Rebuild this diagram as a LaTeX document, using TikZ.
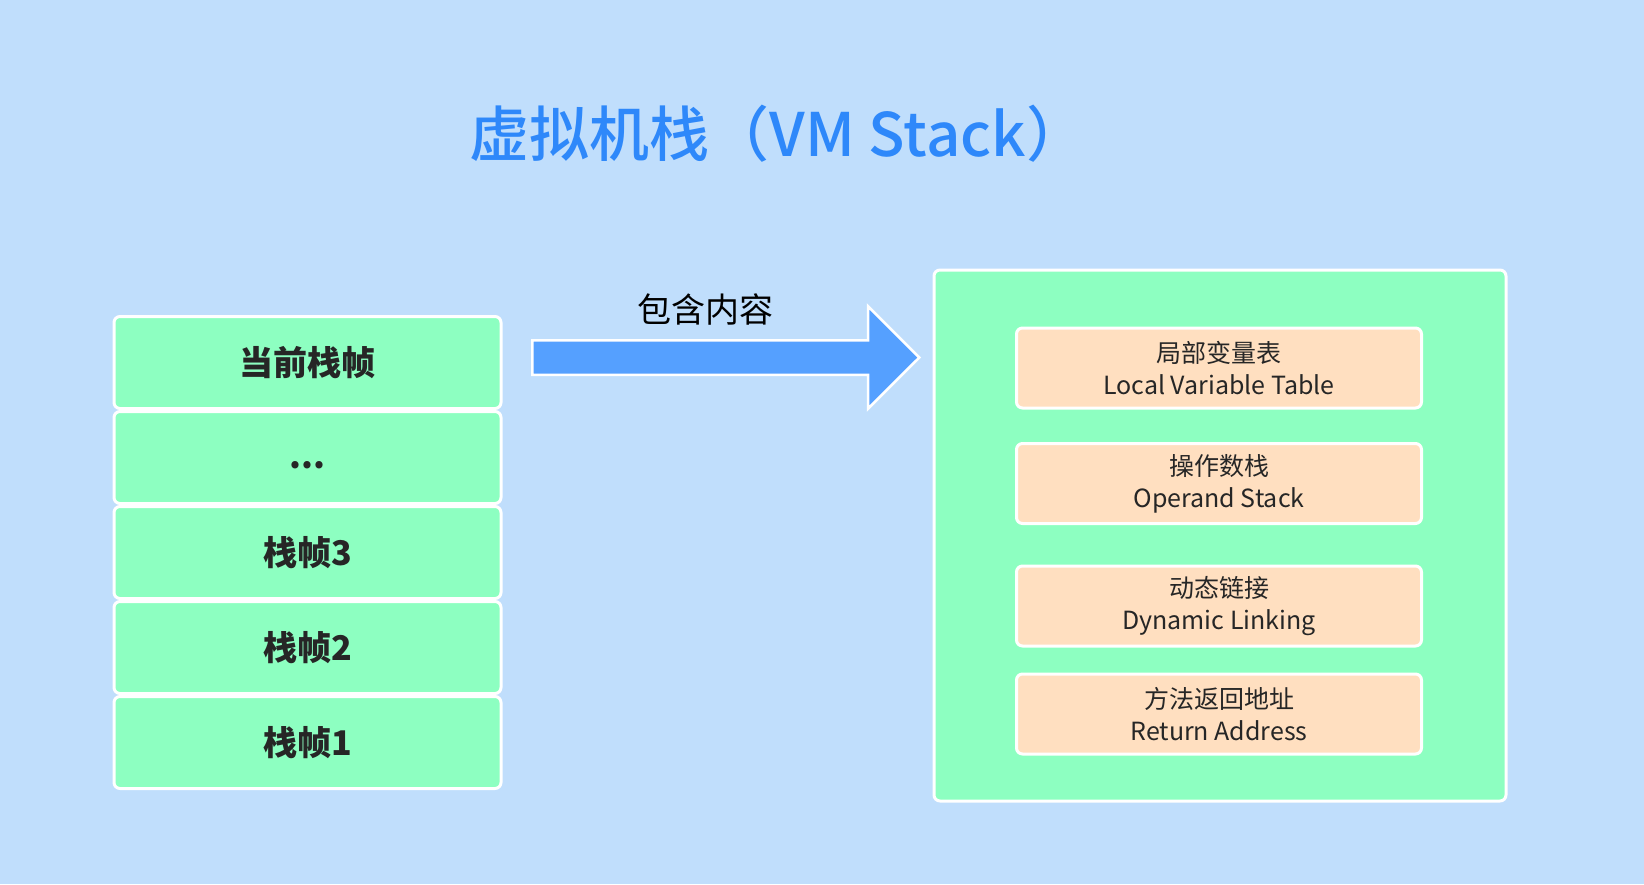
\documentclass[tikz,border=0pt]{standalone}
\usepackage{fontspec}
\setmainfont{Noto Sans CJK SC}
\newfontfamily\titlefont{Noto Sans CJK SC Medium}
\usepackage{tikz}
\usetikzlibrary{shapes,shapes.arrows,positioning}
\definecolor{bgblue}{HTML}{C0DEFC}
\definecolor{framegreen}{HTML}{8DFFC1}
\definecolor{itempeach}{HTML}{FFDFC0}
\definecolor{arrowblue}{HTML}{55A0FF}
\definecolor{titleblue}{HTML}{2E88FA}
\definecolor{textdark}{HTML}{262626}

\begin{document}
\begin{tikzpicture}[x=1pt, y=-1pt,
  framebox/.style={rectangle, draw=white, line width=3pt, rounded corners=6pt, fill=framegreen, minimum width=387pt, minimum height=92pt,
    font=\fontsize{34}{40}\selectfont\bfseries, text=textdark},
  itembox/.style={rectangle, draw=white, line width=3pt, rounded corners=6pt, fill=itempeach, minimum width=405pt, minimum height=80pt,
    align=center, font=\fontsize{25}{32}\selectfont, text=textdark},
  bigarrow/.style={single arrow, fill=arrowblue, draw=white, line width=2.5pt, minimum height=387pt, minimum width=101pt,
    single arrow head extend=34pt, inner sep=16pt}
]
  \fill[bgblue] (0,0) rectangle (1644,884);
  \useasboundingbox (0,0) rectangle (1644,884);

  \node[font=\fontsize{60}{66}\titlefont, text=titleblue] (title) at (778,134) {虚拟机栈（VM Stack）};

  % stack frames
  \node[framebox] (current) at (307.5,362.5) {当前栈帧};
  \node[framebox, below=0pt of current] (dots) {\raisebox{-11pt}[0pt][0pt]{...}};
  \node[framebox, below=0pt of dots] (frame3) {栈帧3};
  \node[framebox, below=0pt of frame3] (frame2) {栈帧2};
  \node[framebox, below=0pt of frame2] (frame1) {栈帧1};

  % arrow
  \node[bigarrow, anchor=tail] (contains) at (531,357.5) {};
  \node[font=\fontsize{34}{40}\selectfont, text=black] (containslabel) at (705,309) {包含内容};

  % frame contents
  \node[framebox, minimum width=572pt, minimum height=531pt] (content) at (1220,535.5) {};
  \node[itembox] (locals) at (1219,368) {局部变量表\\Local Variable Table};
  \node[itembox] (operand) at (1219,483.5) {操作数栈\\Operand Stack};
  \node[itembox] (linking) at (1219,606) {动态链接\\Dynamic Linking};
  \node[itembox] (retaddr) at (1219,714) {方法返回地址\\Return Address};
\end{tikzpicture}
\end{document}
